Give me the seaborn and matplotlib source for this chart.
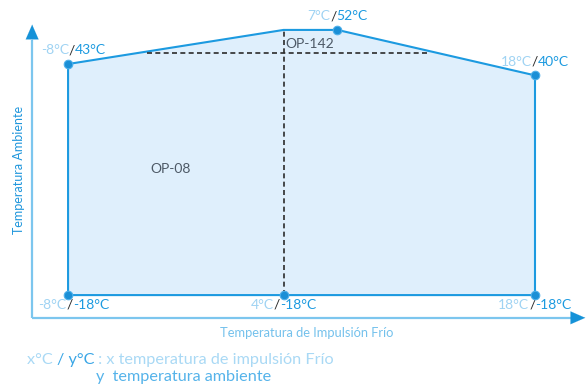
import matplotlib
matplotlib.use("Agg")
import matplotlib.pyplot as plt
import numpy as np
import pandas as pd
import seaborn as sns

# envelope outline: x = supply temperature (cold), y = ambient temperature
outline_x = [-8, -8, 4, 7, 18, 18, 4]
outline_y = [-18, 43, 52, 52, 40, -18, -18]

# labelled corner points
point_x = [-8, 7, 18, -8, 4, 18]
point_y = [43, 52, 40, -18, -18, -18]
point_side = ["top", "top", "top", "bottom", "bottom", "bottom"]

# split between the two models
split_x = 4
split_y = 46
zone_names = ["OP-08", "OP-142"]

x_title = "Temperatura de Impulsión Frío"
y_title = "Temperatura Ambiente"

LIGHT = "#9fd3f3"
MID = "#3aa6e6"
DARK = "#2b2b2b"
EDGE = "#1c9ae0"
AXIS = "#7cc6ee"
HEAD = "#1592d8"

sns.set_theme(style="white")
plt.rcParams["font.family"] = ["Lato", "DejaVu Sans"]

fig = plt.figure(figsize=(5.86, 3.86), dpi=100)
ax = fig.add_axes([0, 0, 1, 1])
ax.set_xlim(-11.79, 20.84)
ax.set_ylim(-42.0, 59.9)
ax.axis("off")

# filled envelope
ax.fill(outline_x, outline_y, facecolor="#dfeffc", edgecolor=EDGE, linewidth=1.5, zorder=2)

# dashed split lines
ax.plot([split_x, split_x], [min(outline_y), max(outline_y)], ls=(0, (3, 2)), color=DARK, lw=1.2, zorder=3)
left_x = np.interp(split_y, [43, 52], [-8, 4])
right_x = np.interp(split_y, [40, 52], [18, 7])
ax.plot([left_x + 0.4, right_x - 0.4], [split_y, split_y], ls=(0, (3, 2)), color=DARK, lw=1.2, zorder=3)

# corner points
pts = pd.DataFrame({"x": point_x, "y": point_y})
sns.scatterplot(data=pts, x="x", y="y", s=38, color="#1a8fd6", edgecolor="#4fb0ea",
                linewidth=0.8, zorder=5, ax=ax, legend=False)

# axes with arrows
ax_x0, ax_y0 = -10, -24
ax.plot([ax_x0, 20.1], [ax_y0, ax_y0], color=AXIS, lw=1.6, zorder=1, solid_capstyle="butt")
ax.plot([ax_x0, ax_x0], [ax_y0, 49.4], color=AXIS, lw=1.6, zorder=1, solid_capstyle="butt")
arrow = dict(arrowstyle="-|>,head_length=10.5,head_width=4.6", mutation_scale=1,
             color=HEAD, lw=0.1, shrinkA=0, shrinkB=0)
ax.annotate("", xy=(20.8, ax_y0), xytext=(20.0, ax_y0), arrowprops=arrow)
ax.annotate("", xy=(ax_x0, 53.4), xytext=(ax_x0, 49.2), arrowprops=arrow)


def chain(first, parts, size, **kw):
    """Draw pieces of text one after another, each with its own colour."""
    txt, col = parts[0]
    t = ax.annotate(txt, color=col, size=size, ha="left", annotation_clip=False, **first, **kw)
    items = [t]
    for txt, col in parts[1:]:
        t = ax.annotate(txt, xy=(1, 0), xycoords=t, xytext=(0, 0), textcoords="offset points",
                        va="bottom", ha="left", color=col, size=size, annotation_clip=False, **kw)
        items.append(t)
    return items


# corner labels
label_sets = []
for px, py, side in zip(point_x, point_y, point_side):
    dy = 5.5 if side == "top" else -2.5
    va = "bottom" if side == "top" else "top"
    parts = [(f"{px}°C", LIGHT), ("/", DARK), (f"{py}°C", EDGE)]
    items = chain(dict(xy=(px, py), xytext=(0, dy), textcoords="offset points", va=va), parts, 10)
    label_sets.append((items, px, dy))

fig.canvas.draw()
r = fig.canvas.get_renderer()
for items, px, dy in label_sets:
    w = sum(t.get_window_extent(r).width for t in items) * 72 / fig.dpi
    shift = 4 if px == -8 else 0
    items[0].xyann = (-w / 2 + shift, dy)

# zone names
ax.text(-2.27, 15.3, zone_names[0], color="#4d5966", size=10, ha="center", va="center", zorder=4)
ax.text(split_x + 0.12, 48.3, zone_names[1], color="#4d5966", size=10, ha="left", va="center", zorder=4)

# axis titles
fig.text(307 / 586, 1 - 333 / 386, x_title, color="#74c1ec", size=9.3, ha="center", va="center")
fig.text(19 / 586, 1 - 170 / 386, y_title, color="#1f96dc", size=9, ha="center", va="center",
         rotation=90)

# key
chain(dict(xy=(27 / 586, 1 - 360 / 386), xycoords="figure fraction", va="center"),
      [("x°C ", "#a9d9f5"), ("/ y°C", MID), (" : x temperatura de impulsión Frío", "#a9d9f5")], 11.7)
fig.text(96 / 586, 1 - 377 / 386, "y  temperatura ambiente", color="#55b3ea", size=11.7,
         ha="left", va="center")

fig.savefig("out.png", dpi=100)
